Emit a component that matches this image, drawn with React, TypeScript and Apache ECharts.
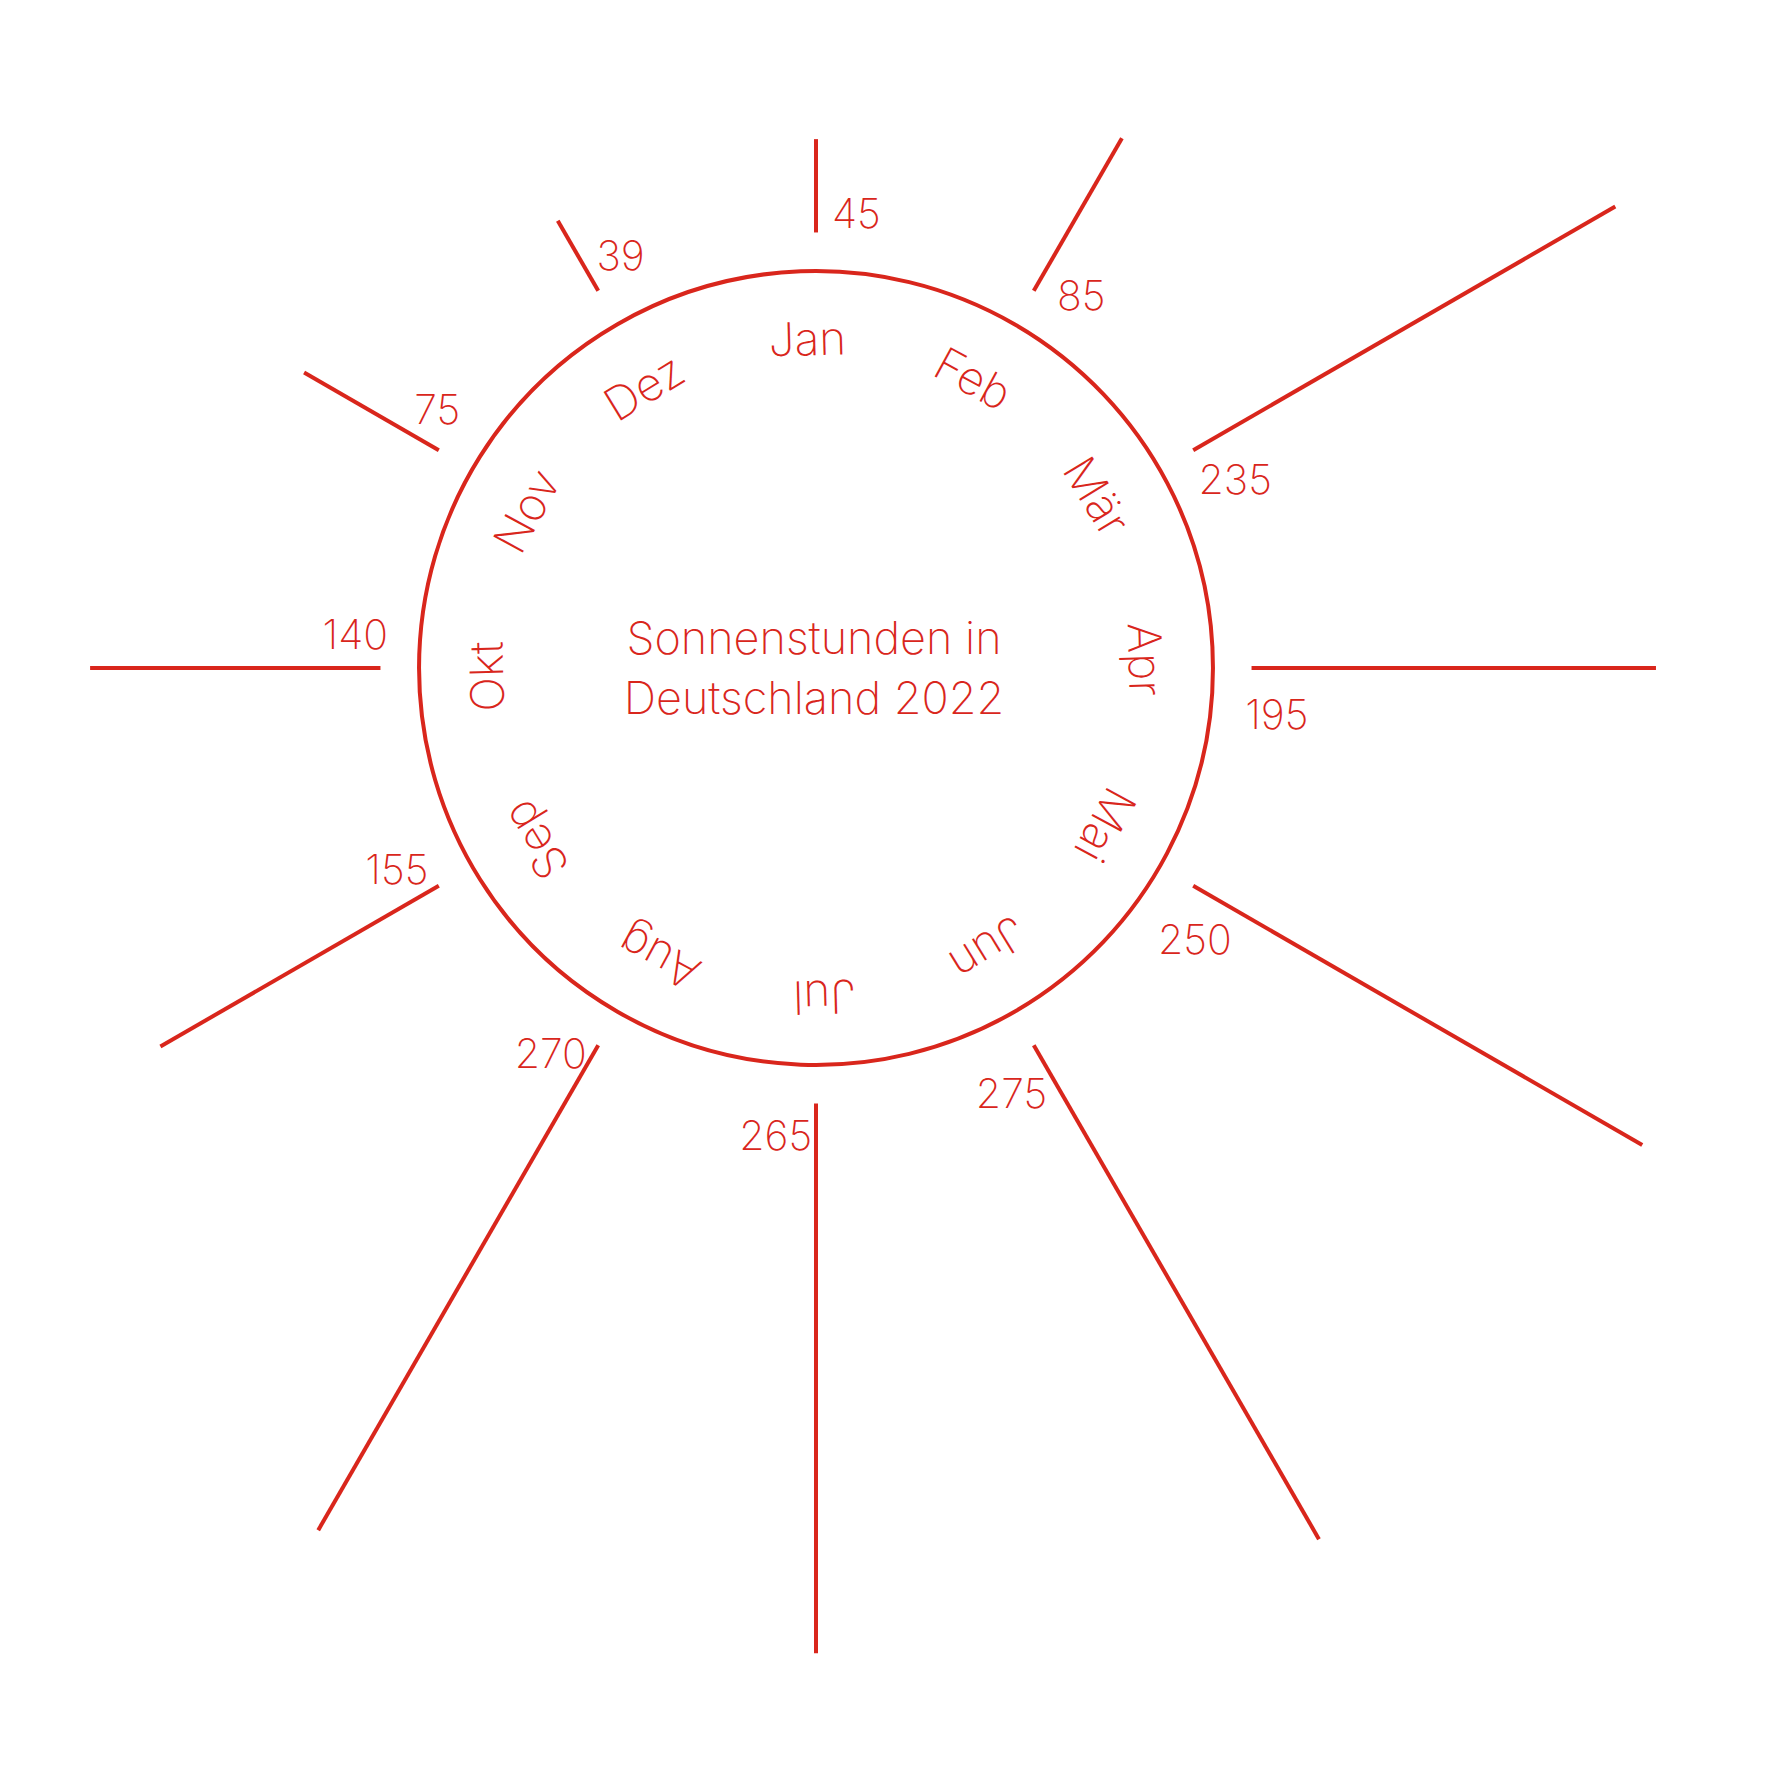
import React, { useEffect, useRef } from 'react';
import * as echarts from 'echarts';

const months = ['Jan', 'Feb', 'Mär', 'Apr', 'Mai', 'Jun', 'Jul', 'Aug', 'Sep', 'Okt', 'Nov', 'Dez'];
const sunshineHours = [45, 85, 235, 195, 250, 275, 265, 270, 155, 140, 75, 39];
const titleText = 'Sonnenstunden in\nDeutschland 2022';

const RED = '#d9261c';
const FONT = 'Inter, Lato, "Noto Sans", sans-serif';

export default function App() {
  const ref = useRef<HTMLDivElement>(null);
  useEffect(() => {
    document.body.style.margin = '0';
    const chart = echarts.init(ref.current!, null, { renderer: 'svg' });
    const cx = 816;
    const cy = 668;
    const RMIN = -210;
    const RMAX = 290;
    const unit = 2.074;
    const outer = (RMAX - RMIN) * unit;
    const CIRCLE_VAL = -18.6;
    const MONTH_VAL = -51;
    const LABEL_VAL = 13;
    const LABEL_SHIFT = (5 * Math.PI) / 180;
    const MONTH_SHIFT = (1.5 * Math.PI) / 180;

    chart.setOption({
      animation: false,
      backgroundColor: '#ffffff',
      title: {
        text: titleText,
        left: cx - 2,
        top: 607,
        padding: 0,
        textAlign: 'center',
        textStyle: {
          color: RED,
          fontFamily: FONT,
          fontWeight: 200,
          fontSize: 45,
          lineHeight: 60,
          align: 'center',
        },
      },
      polar: { center: [cx, cy], radius: [0, outer] },
      angleAxis: {
        type: 'category',
        data: months,
        startAngle: 90,
        clockwise: true,
        boundaryGap: false,
        show: false,
      },
      radiusAxis: { type: 'value', min: RMIN, max: RMAX, show: false },
      series: [
        {
          type: 'custom',
          coordinateSystem: 'polar',
          data: sunshineHours.map((v, i) => [v, i]),
          renderItem: (params: any, api: any) => {
            const v = api.value(0);
            const i = api.value(1);
            const cs = params.coordSys;
            const ocx = cs.cx;
            const ocy = cs.cy;
            const p0 = api.coord([0, i]);
            const p1 = api.coord([v, i]);
            const theta = Math.atan2(-(p0[1] - ocy), p0[0] - ocx);
            const pm = api.coord([MONTH_VAL, i]);
            const rm = Math.hypot(pm[0] - ocx, pm[1] - ocy);
            const tm = theta + MONTH_SHIFT;
            const pl = api.coord([LABEL_VAL, i]);
            const rl = Math.hypot(pl[0] - ocx, pl[1] - ocy);
            const tl = theta - LABEL_SHIFT;
            const children: any[] = [
              {
                type: 'line',
                shape: { x1: p0[0], y1: p0[1], x2: p1[0], y2: p1[1] },
                style: { stroke: RED, lineWidth: 4 },
              },
              {
                type: 'text',
                x: ocx + rl * Math.cos(tl),
                y: ocy - rl * Math.sin(tl) + 6,
                style: {
                  text: String(v),
                  fill: RED,
                  fontFamily: FONT,
                  fontWeight: 200,
                  fontSize: 41,
                  align: 'center',
                  verticalAlign: 'middle',
                },
              },
              {
                type: 'text',
                x: ocx + rm * Math.cos(tm),
                y: ocy - rm * Math.sin(tm),
                rotation: tm - Math.PI / 2,
                style: {
                  text: months[i],
                  fill: RED,
                  fontFamily: FONT,
                  fontWeight: 200,
                  fontSize: 46,
                  align: 'center',
                  verticalAlign: 'middle',
                },
              },
            ];
            if (params.dataIndex === 0) {
              const pc = api.coord([CIRCLE_VAL, i]);
              const rc = Math.hypot(pc[0] - ocx, pc[1] - ocy);
              children.push({
                type: 'circle',
                shape: { cx: ocx, cy: ocy, r: rc },
                style: { fill: 'none', stroke: RED, lineWidth: 4 },
              });
            }
            return { type: 'group', children };
          },
        },
      ],
    });
    return () => chart.dispose();
  }, []);
  return <div ref={ref} style={{ width: 1767, height: 1767 }} />;
}
